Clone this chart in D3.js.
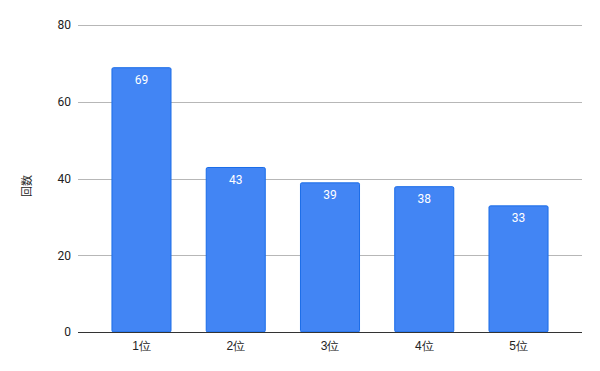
<!DOCTYPE html>
<html><head><meta charset="utf-8">
<script src="https://cdn.jsdelivr.net/npm/d3@7"></script>
<style>body{margin:0;background:#fff}svg{display:block;font-family:Roboto,"Noto Sans CJK JP",sans-serif}</style>
</head><body><svg id="c" width="600" height="371"></svg>
<script>
const categories = ["1位","2位","3位","4位","5位"];
const values = [69,43,39,38,33];
const yTicks = [0,20,40,60,80];
const yTitle = "回数";

const svg = d3.select("#c");
const x = d3.scaleBand().domain(categories).range([78,582]).paddingInner(0.363).paddingOuter(0.355);
const y = d3.scaleLinear().domain([0,80]).range([332,25]);

svg.append("g").selectAll("line").data(yTicks.filter(d=>d>0)).join("line")
  .attr("x1",78).attr("x2",582).attr("y1",d=>Math.round(y(d))+0.5).attr("y2",d=>Math.round(y(d))+0.5)
  .attr("stroke","#b7b7b7").attr("stroke-width",1);

const yAxis = d3.axisLeft(y).tickValues(yTicks).tickSize(0).tickPadding(7);
const ga = svg.append("g").attr("transform","translate(78,0)").call(yAxis);
ga.select(".domain").remove();
ga.selectAll("text").attr("font-size",12).attr("fill","#222").attr("font-family","Roboto,sans-serif");

svg.append("g").selectAll("rect").data(values).join("rect")
  .attr("x",(d,i)=>x(categories[i])+0.5).attr("y",d=>y(d)+0.5)
  .attr("width",x.bandwidth()-1).attr("height",d=>y(0)-y(d)-0.5)
  .attr("rx",1.5)
  .attr("fill","#4285f4").attr("stroke","#1a6ce8").attr("stroke-width",1);

svg.append("g").selectAll("text").data(values).join("text")
  .attr("x",(d,i)=>x(categories[i])+x.bandwidth()/2).attr("y",d=>y(d)+17)
  .attr("text-anchor","middle").attr("font-size",12).attr("fill","#fff").text(d=>d);

const xAxis = d3.axisBottom(x).tickSize(0).tickPadding(9);
const gx = svg.append("g").attr("transform","translate(0,332)").call(xAxis);
gx.select(".domain").remove();
gx.selectAll("text").attr("font-size",12).attr("fill","#222");
svg.append("line").attr("x1",78).attr("x2",582).attr("y1",332.5).attr("y2",332.5).attr("stroke","#333").attr("stroke-width",1);

svg.append("text").attr("transform","translate(31,186) rotate(-90)")
  .attr("text-anchor","middle").attr("font-size",11).attr("fill","#222").text(yTitle);
</script></body></html>
